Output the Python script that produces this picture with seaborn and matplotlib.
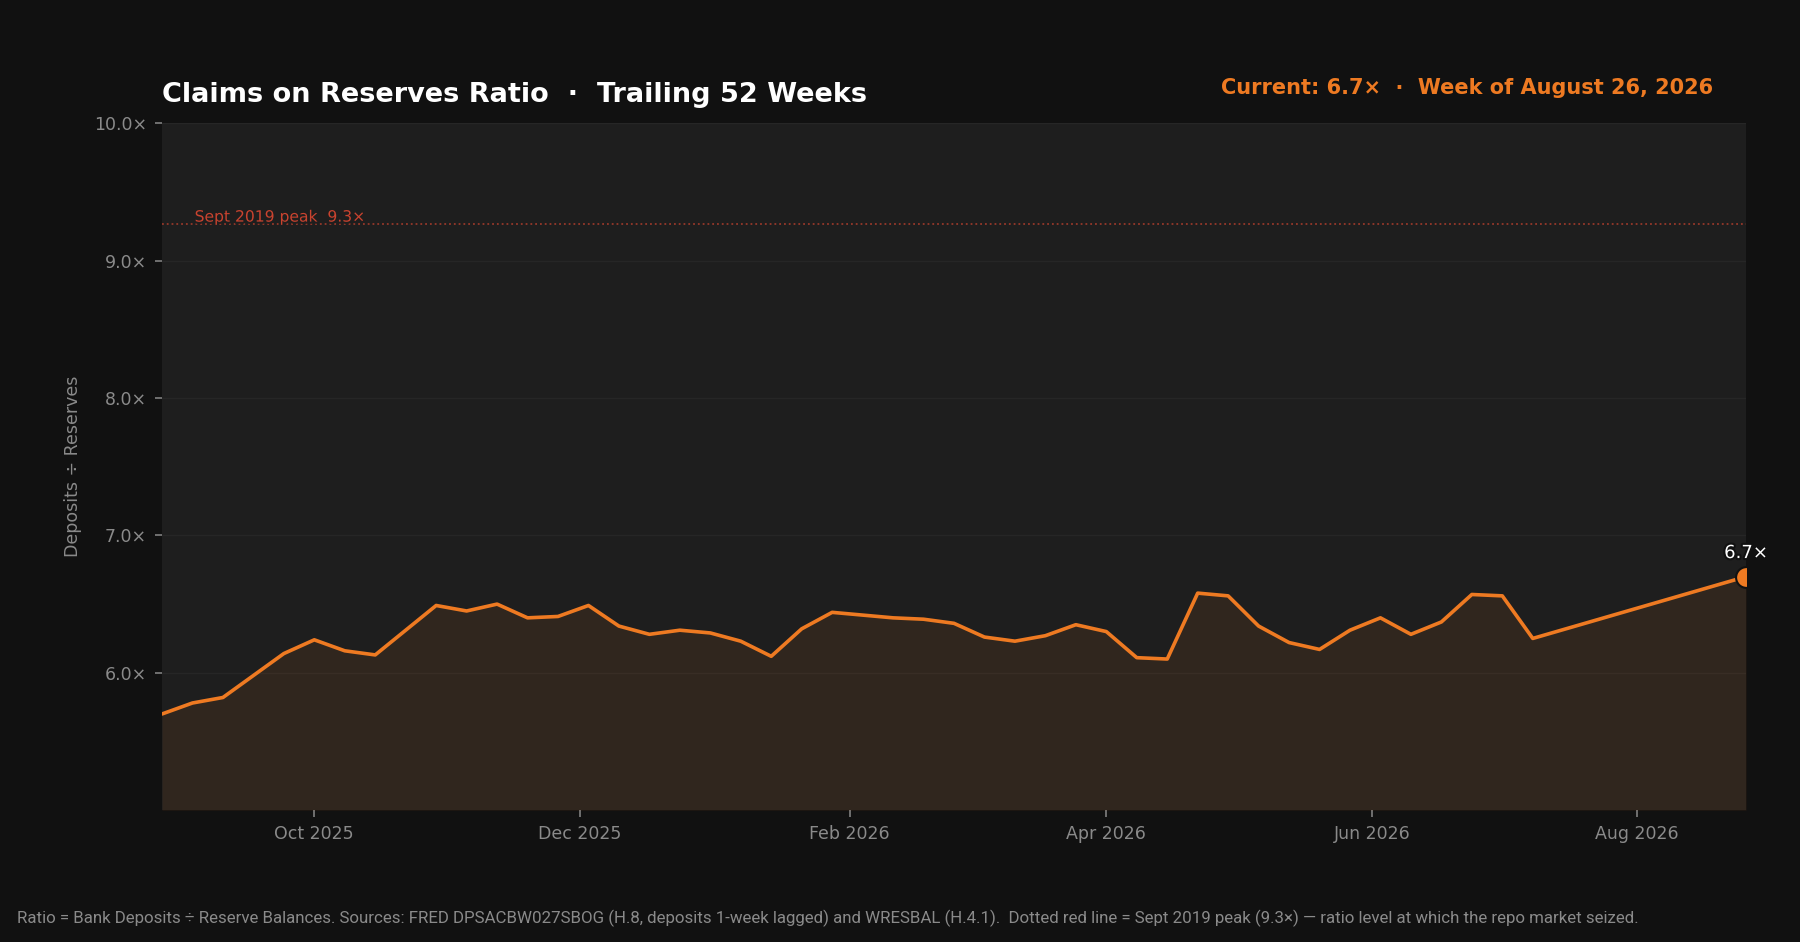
import matplotlib
matplotlib.use("Agg")
import matplotlib.pyplot as plt
import matplotlib.dates as mdates
import matplotlib.patheffects as pe
import seaborn as sns
import pandas as pd

# weekly ratio readings (Wednesdays), then the latest week
week_dates = list(pd.date_range("2025-08-27", "2026-07-08", freq="7D")) + [pd.Timestamp("2026-08-26")]
ratio = [5.70, 5.78, 5.82, 5.98, 6.14, 6.24, 6.16, 6.13, 6.31, 6.49,
         6.45, 6.50, 6.40, 6.41, 6.49, 6.34, 6.28, 6.31, 6.29, 6.23,
         6.12, 6.32, 6.44, 6.42, 6.40, 6.39, 6.36, 6.26, 6.23, 6.27,
         6.35, 6.30, 6.11, 6.10, 6.58, 6.56, 6.34, 6.22, 6.17, 6.31,
         6.40, 6.28, 6.37, 6.57, 6.56, 6.25, 6.70]
peak_2019 = 9.27
y_ticks = [6.0, 7.0, 8.0, 9.0, 10.0]

title = "Claims on Reserves Ratio  \u00b7  Trailing 52 Weeks"
subtitle = "Current: 6.7\u00d7  \u00b7  Week of August 26, 2026"
footnote = ("Ratio = Bank Deposits \u00f7 Reserve Balances. Sources: FRED DPSACBW027SBOG (H.8, deposits 1-week lagged) "
            "and WRESBAL (H.4.1).  Dotted red line = Sept 2019 peak (9.3\u00d7) \u2014 ratio level at which the repo market seized.")

ORANGE = "#ee7a22"
BG = "#111111"
PANEL = "#1e1e1e"
GREY = "#8a8a8a"
RED = "#c9432f"

sns.set_theme(style="dark")
plt.rcParams["font.family"] = ["DejaVu Sans"]

df = pd.DataFrame({"week": week_dates, "ratio": ratio})

fig = plt.figure(figsize=(18, 9.42), dpi=100, facecolor=BG)
ax = fig.add_axes([0.09, 0.14, 0.88, 0.729])
ax.set_facecolor(PANEL)

ax.fill_between(df["week"], df["ratio"], 5.0, color=ORANGE, alpha=0.09, lw=0)
sns.lineplot(data=df, x="week", y="ratio", ax=ax, color=ORANGE, lw=2.6)

last = df.iloc[-1]
ax.plot([last["week"]], [last["ratio"]], "o", color=ORANGE, ms=15,
        mec=BG, mew=1.5, zorder=5)
ax.annotate(f"{last['ratio']:.1f}\u00d7", (last["week"], last["ratio"]),
            xytext=(0, 10.5), textcoords="offset points", ha="center", va="bottom",
            color="white", fontsize=13, annotation_clip=False,
            path_effects=[pe.withStroke(linewidth=3, foreground=BG)])

ax.axhline(peak_2019, color=RED, ls=":", lw=1.3, alpha=0.7)
ax.text(df["week"].iloc[0] + pd.Timedelta(days=7.5), peak_2019 + 0.015,
        "Sept 2019 peak  9.3\u00d7", color=RED, fontsize=11.2, va="baseline",
        path_effects=[pe.withStroke(linewidth=3, foreground=PANEL)])

ax.set_xlim(df["week"].iloc[0], df["week"].iloc[-1])
ax.set_ylim(5.0, 10.0)
ax.set_yticks(y_ticks)
ax.set_yticklabels([f"{v:.1f}\u00d7" for v in y_ticks])
ax.xaxis.set_major_locator(mdates.MonthLocator(bymonth=[2, 4, 6, 8, 10, 12]))
ax.xaxis.set_major_formatter(mdates.DateFormatter("%b %Y"))

ax.grid(axis="y", color="#262626", lw=1)
ax.grid(axis="x", visible=False)
for s in ax.spines.values():
    s.set_visible(False)
ax.tick_params(axis="both", colors="#777777", labelcolor=GREY, labelsize=12.5,
               length=5, width=1.3, pad=6, bottom=True, left=True)
ax.set_xlabel("")
ax.set_ylabel("Deposits \u00f7 Reserves", color=GREY, fontsize=12.5, labelpad=8.5)

fig.text(0.09, 1 - 102 / 942, title, color="white", fontsize=19.5,
         fontweight="bold", ha="left", va="baseline")
fig.text(0.952, 1 - 94 / 942, subtitle, color=ORANGE, fontsize=15.0,
         fontweight="bold", ha="right", va="baseline")
fig.text(0.0095, 1 - 923 / 942, footnote, color=GREY, fontsize=12.15,
         family=["Roboto", "DejaVu Sans"], ha="left", va="baseline")

fig.savefig("out.png", dpi=100, facecolor=BG)
plt.close(fig)
